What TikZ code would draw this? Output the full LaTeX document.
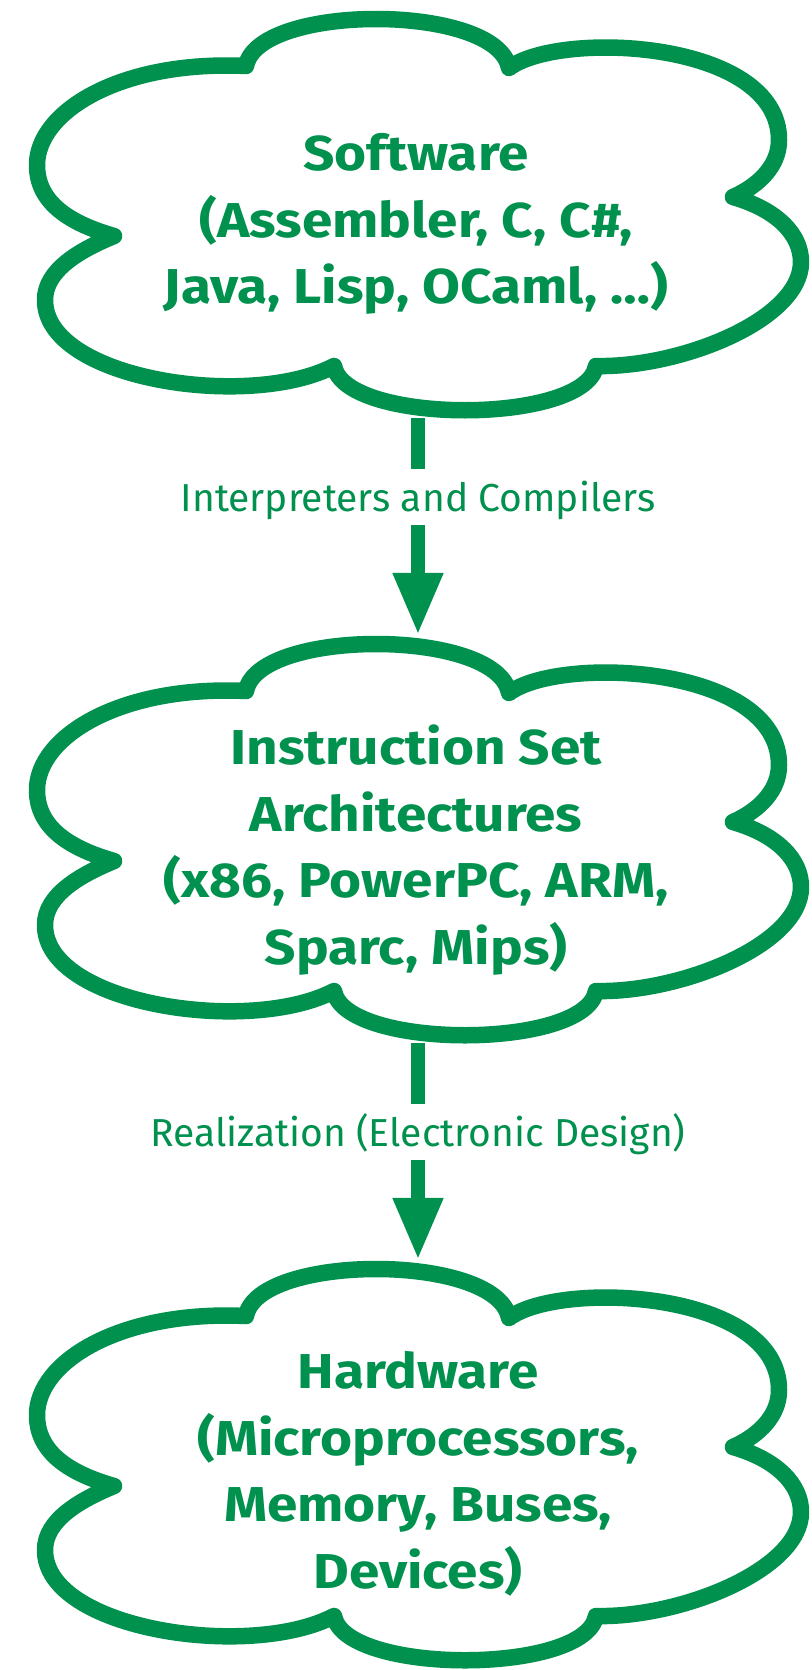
\documentclass[tikz,border=0pt]{standalone}
\usepackage{fontspec}
\usetikzlibrary{arrows.meta}
\newfontfamily\cloudfont{Fira Sans}
\newfontfamily\cloudboldfont[FakeStretch=1.12]{Fira Sans}
\definecolor{leaf}{RGB}{0,145,78}

% outline of one cloud, in pixel units (y grows downwards)
\newcommand\cloudoutline{%
  (246,66) .. controls (258,3) and (497,3) .. (509,68)
  .. controls (560,30) and (779,40) .. (779,140)
  .. controls (779,165) and (760,185) .. (733,197)
  .. controls (778,210) and (801,235) .. (801,262)
  .. controls (801,320) and (680,368) .. (596,366)
  .. controls (585,425) and (345,425) .. (334,366)
  .. controls (250,410) and (45,380) .. (45,300)
  .. controls (45,270) and (80,250) .. (114,236)
  .. controls (65,222) and (37,200) .. (37,165)
  .. controls (37,112) and (120,60) .. (246,66) -- cycle}

\tikzset{
  cloudline/.style={draw=leaf, line width=16.5pt, line join=round, fill=white},
  frame/.style={minimum width=782pt, minimum height=408pt, inner sep=0pt},
  cloudtext/.style={text=leaf, align=center, inner sep=0pt,
    font=\cloudboldfont\bfseries\fontsize{49}{66.5}\selectfont},
  flow/.style={draw=leaf, line width=14pt, -{Triangle[length=62pt,width=47pt]}},
  flowlabel/.style={text=leaf, fill=white, inner sep=0pt, anchor=base,
    text height=42pt, text depth=14pt,
    font=\cloudfont\fontsize{39}{47}\selectfont}
}

\begin{document}
\begin{tikzpicture}[x=1pt, y=-1pt]
\useasboundingbox[fill=white] (0,0) rectangle (811,1670);

% the three clouds
\path[cloudline] \cloudoutline;
\begin{scope}[shift={(0,625)}]
  \path[cloudline] \cloudoutline;
\end{scope}
\begin{scope}[shift={(0,1250)}]
  \path[cloudline] \cloudoutline;
\end{scope}

% frames of the clouds, used as connector ends
\node[frame] (sw)  at (419,214)  {};
\node[frame] (isa) at (419,839)  {};
\node[frame] (hw)  at (419,1464) {};

% cloud texts
\node[cloudtext] (swtext) at (416,224)
  {Software\\(Assembler, C, C\#,\\Java, Lisp, OCaml, \dots)};
\node[cloudtext] (isatext) at (416,850)
  {Instruction Set\\Architectures\\(x86, PowerPC, ARM,\\Sparc, Mips)};
\node[cloudtext] (hwtext) at (418,1474)
  {Hardware\\(Microprocessors,\\Memory, Buses,\\Devices)};

% connectors between the layers
\draw[flow] (sw.south -| 418,0) -- (isa.north -| 418,0);
\draw[flow] (isa.south -| 418,0) -- (hw.north -| 418,0);

% connector labels
\node[flowlabel] (interp) at (418,511) {Interpreters and Compilers};
\node[flowlabel] (real) at (418,1146) {Realization (Electronic Design)};
\end{tikzpicture}
\end{document}
